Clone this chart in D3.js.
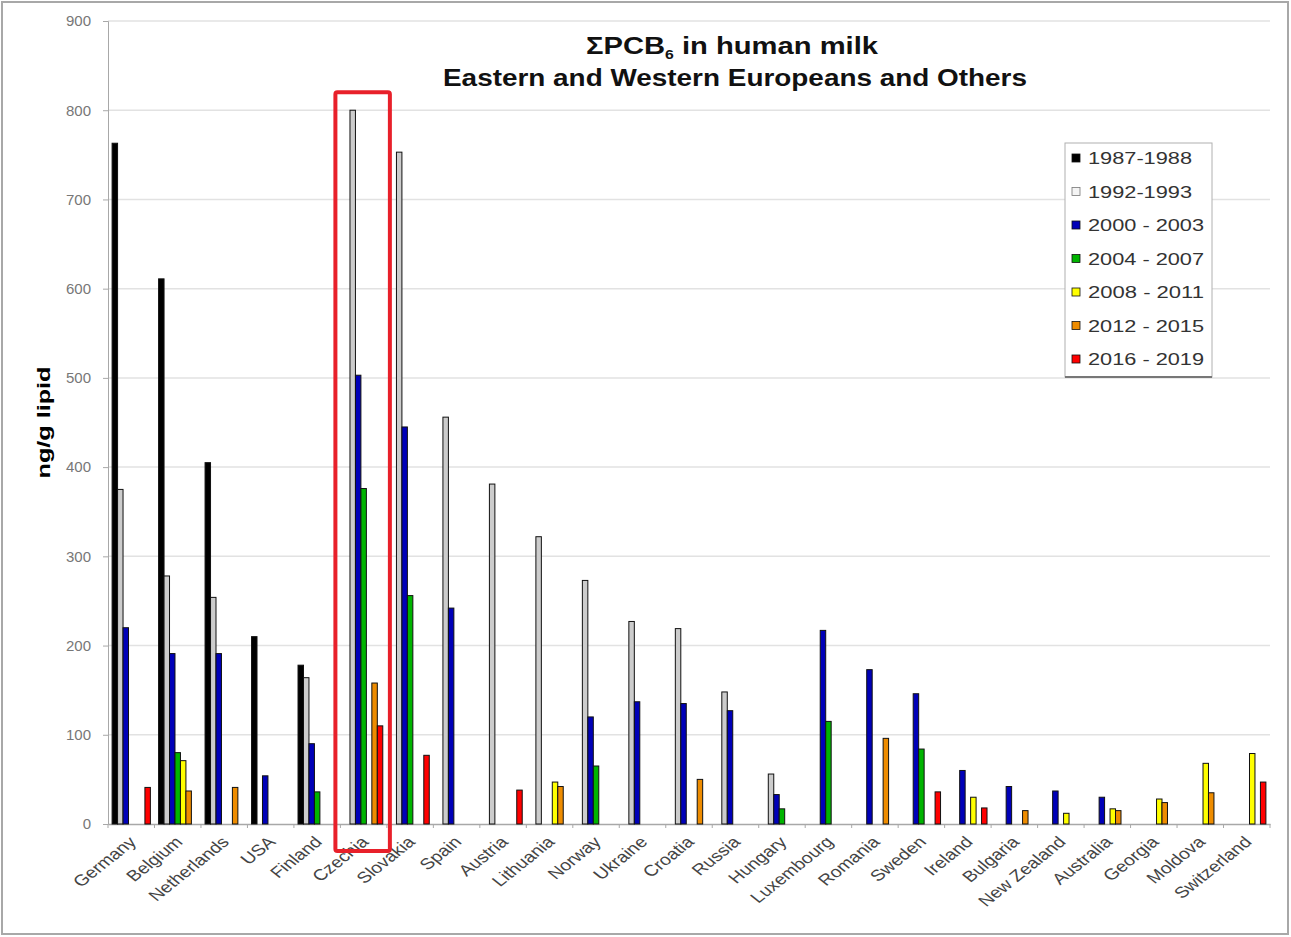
<!DOCTYPE html>
<html>
<head>
<meta charset="utf-8">
<script src="https://cdn.jsdelivr.net/npm/d3@7"></script>
<style>
  html, body { margin: 0; padding: 0; background: #fff; }
  svg { display: block; font-family: "Liberation Sans", Arial, sans-serif; }
</style>
</head>
<body>
<div id="viz"></div>
<script>
const countries = ["Germany", "Belgium", "Netherlands", "USA", "Finland", "Czechia", "Slovakia", "Spain",
  "Austria", "Lithuania", "Norway", "Ukraine", "Croatia", "Russia", "Hungary", "Luxembourg", "Romania",
  "Sweden", "Ireland", "Bulgaria", "New Zealand", "Australia", "Georgia", "Moldova", "Switzerland"];

const periods = ["1987-1988", "1992-1993", "2000 - 2003", "2004 - 2007", "2008 - 2011", "2012 - 2015", "2016 - 2019"];
const periodColors = ["#000000", "#cccccc", "#0000b8", "#00b400", "#ffff00", "#ee8c00", "#ff0000"];

// ng/g lipid per country (null = no data), same order as countries
const v1987 = [763, 611, 405, 210, 178, null, null, null, null, null, null, null, null, null, null, null, null, null, null, null, null, null, null, null, null];
const v1992 = [375, 278, 254, null, 164, 800, 753, 456, 381, 322, 273, 227, 219, 148, 56, null, null, null, null, null, null, null, null, null, null];
const v2000 = [220, 191, 191, 54, 90, 503, 445, 242, null, null, 120, 137, 135, 127, 33, 217, 173, 146, 60, 42, 37, 30, null, null, null];
const v2004 = [null, 80, null, null, 36, 376, 256, null, null, null, 65, null, null, null, 17, 115, null, 84, null, null, null, null, null, null, null];
const v2008 = [null, 71, null, null, null, null, null, null, null, 47, null, null, null, null, null, null, null, null, 30, null, 12, 17, 28, 68, 79];
const v2012 = [null, 37, 41, null, null, 158, null, null, null, 42, null, null, 50, null, null, null, 96, null, null, 15, null, 15, 24, 35, null];
const v2016 = [41, null, null, null, null, 110, 77, null, 38, null, null, null, null, null, null, null, null, 36, 18, null, null, null, null, null, 47];

const yTicks = [0, 100, 200, 300, 400, 500, 600, 700, 800, 900];
const highlighted = "Czechia";

const seriesValues = [v1987, v1992, v2000, v2004, v2008, v2012, v2016];

const width = 1291, height = 937;
const margin = { top: 21, right: 21, bottom: 113, left: 108 };

const svg = d3.select("#viz").append("svg")
  .attr("width", width)
  .attr("height", height);

// outer frame
svg.append("rect")
  .attr("x", 2).attr("y", 2)
  .attr("width", 1286).attr("height", 932)
  .attr("fill", "#fff")
  .attr("stroke", "#a8a8a8")
  .attr("stroke-width", 2);

const y = d3.scaleLinear()
  .domain([0, 900])
  .range([height - margin.bottom, margin.top]);

const x0 = d3.scaleBand()
  .domain(countries)
  .range([margin.left, width - margin.right])
  .padding(0);

const x1 = d3.scaleBand()
  .domain(periods)
  .range([0, x0.bandwidth()])
  .paddingInner(0)
  .paddingOuter(0.75);

// grid lines
svg.append("g")
  .selectAll("line")
  .data(yTicks.slice(1))
  .join("line")
  .attr("x1", margin.left).attr("x2", width - margin.right)
  .attr("y1", d => y(d)).attr("y2", d => y(d))
  .attr("stroke", "#e2e2e2")
  .attr("stroke-width", 1.5);

// y axis
const yAxis = svg.append("g")
  .attr("transform", `translate(${margin.left},0)`)
  .call(d3.axisLeft(y).tickValues(yTicks).tickSize(5).tickPadding(12));
yAxis.select(".domain").attr("stroke", "#a8a8a8");
yAxis.selectAll(".tick line").attr("stroke", "#a8a8a8");
yAxis.selectAll(".tick text")
  .attr("font-size", 15)
  .attr("fill", "#777")
  .attr("font-family", "Liberation Sans, Arial, sans-serif");

// x axis
const xAxis = svg.append("g")
  .attr("transform", `translate(0,${y(0)})`)
  .call(d3.axisBottom(x0).tickSize(0).tickFormat(""));
xAxis.select(".domain").attr("stroke", "#a8a8a8").attr("stroke-width", 1.5);
xAxis.selectAll(".tick").remove();

// category boundary ticks
svg.append("g")
  .selectAll("line")
  .data(countries.concat(["__end"]))
  .join("line")
  .attr("x1", (d, i) => i < countries.length ? x0(d) : x0.range()[1])
  .attr("x2", (d, i) => i < countries.length ? x0(d) : x0.range()[1])
  .attr("y1", y(0)).attr("y2", y(0) + 4)
  .attr("stroke", "#a8a8a8");

// bars
const groups = svg.append("g")
  .selectAll("g")
  .data(countries)
  .join("g")
  .attr("transform", d => `translate(${x0(d)},0)`);

groups.selectAll("rect")
  .data((c, ci) => periods.map((p, pi) => ({ period: p, color: periodColors[pi], value: seriesValues[pi][ci] }))
    .filter(d => d.value != null))
  .join("rect")
  .attr("x", d => x1(d.period))
  .attr("y", d => y(d.value))
  .attr("width", x1.bandwidth())
  .attr("height", d => y(0) - y(d.value))
  .attr("fill", d => d.color)
  .attr("stroke", "#111")
  .attr("stroke-width", 1);

// x labels
svg.append("g")
  .selectAll("text")
  .data(countries)
  .join("text")
  .attr("transform", d => `translate(${x0(d) + x0.bandwidth() / 2 + 6},${y(0) + 19}) scale(1.25,1) rotate(-45)`)
  .attr("text-anchor", "end")
  .attr("font-size", 15.5)
  .attr("fill", "#444")
  .text(d => d);

// y title
svg.append("text")
  .attr("transform", `translate(50,${(y(0) + y(900)) / 2}) rotate(-90)`)
  .attr("text-anchor", "middle")
  .attr("font-size", 19)
  .attr("font-weight", "bold")
  .attr("textLength", 112)
  .attr("lengthAdjust", "spacingAndGlyphs")
  .text("ng/g lipid");

// title
const t1 = svg.append("text")
  .attr("x", 732).attr("y", 54)
  .attr("text-anchor", "middle")
  .attr("font-size", 24)
  .attr("font-weight", "bold")
  .attr("fill", "#111")
  .attr("textLength", 292)
  .attr("lengthAdjust", "spacingAndGlyphs");
t1.append("tspan").text("ΣPCB");
t1.append("tspan").attr("font-size", 13).attr("dy", 5).text("6");
t1.append("tspan").attr("dy", -5).text(" in human milk");

svg.append("text")
  .attr("x", 735).attr("y", 86)
  .attr("text-anchor", "middle")
  .attr("font-size", 23)
  .attr("font-weight", "bold")
  .attr("fill", "#111")
  .attr("textLength", 584)
  .attr("lengthAdjust", "spacingAndGlyphs")
  .text("Eastern and Western Europeans and Others");

// legend
const legend = svg.append("g").attr("transform", "translate(1065,143)");
legend.append("rect")
  .attr("width", 147).attr("height", 234)
  .attr("fill", "#fff")
  .attr("stroke", "#b0b0b0");
legend.append("line")
  .attr("x1", 0).attr("x2", 147)
  .attr("y1", 234).attr("y2", 234)
  .attr("stroke", "#777").attr("stroke-width", 2);

const items = legend.selectAll("g.item")
  .data(periods)
  .join("g")
  .attr("class", "item")
  .attr("transform", (d, i) => `translate(0,${15 + i * 33.5})`);
items.append("rect")
  .attr("x", 7).attr("y", -4)
  .attr("width", 8).attr("height", 8)
  .attr("fill", (d, i) => i === 1 ? "#f4f4f4" : periodColors[i])
  .attr("stroke", (d, i) => i === 1 ? "#777" : "#111")
  .attr("stroke-width", 0.8);
items.append("text")
  .attr("x", 23).attr("y", 6)
  .attr("font-size", 16)
  .attr("fill", "#333")
  .attr("textLength", d => d.includes(" ") ? 116 : 104)
  .attr("lengthAdjust", "spacingAndGlyphs")
  .text(d => d);

// red highlight box around Czechia
svg.append("rect")
  .attr("x", x0(highlighted) - 5)
  .attr("y", y(800) - 18)
  .attr("width", x0.bandwidth() + 8)
  .attr("height", y(0) - y(800) + 45)
  .attr("rx", 2)
  .attr("fill", "none")
  .attr("stroke", "#e8202a")
  .attr("stroke-width", 4);
</script>
</body>
</html>
